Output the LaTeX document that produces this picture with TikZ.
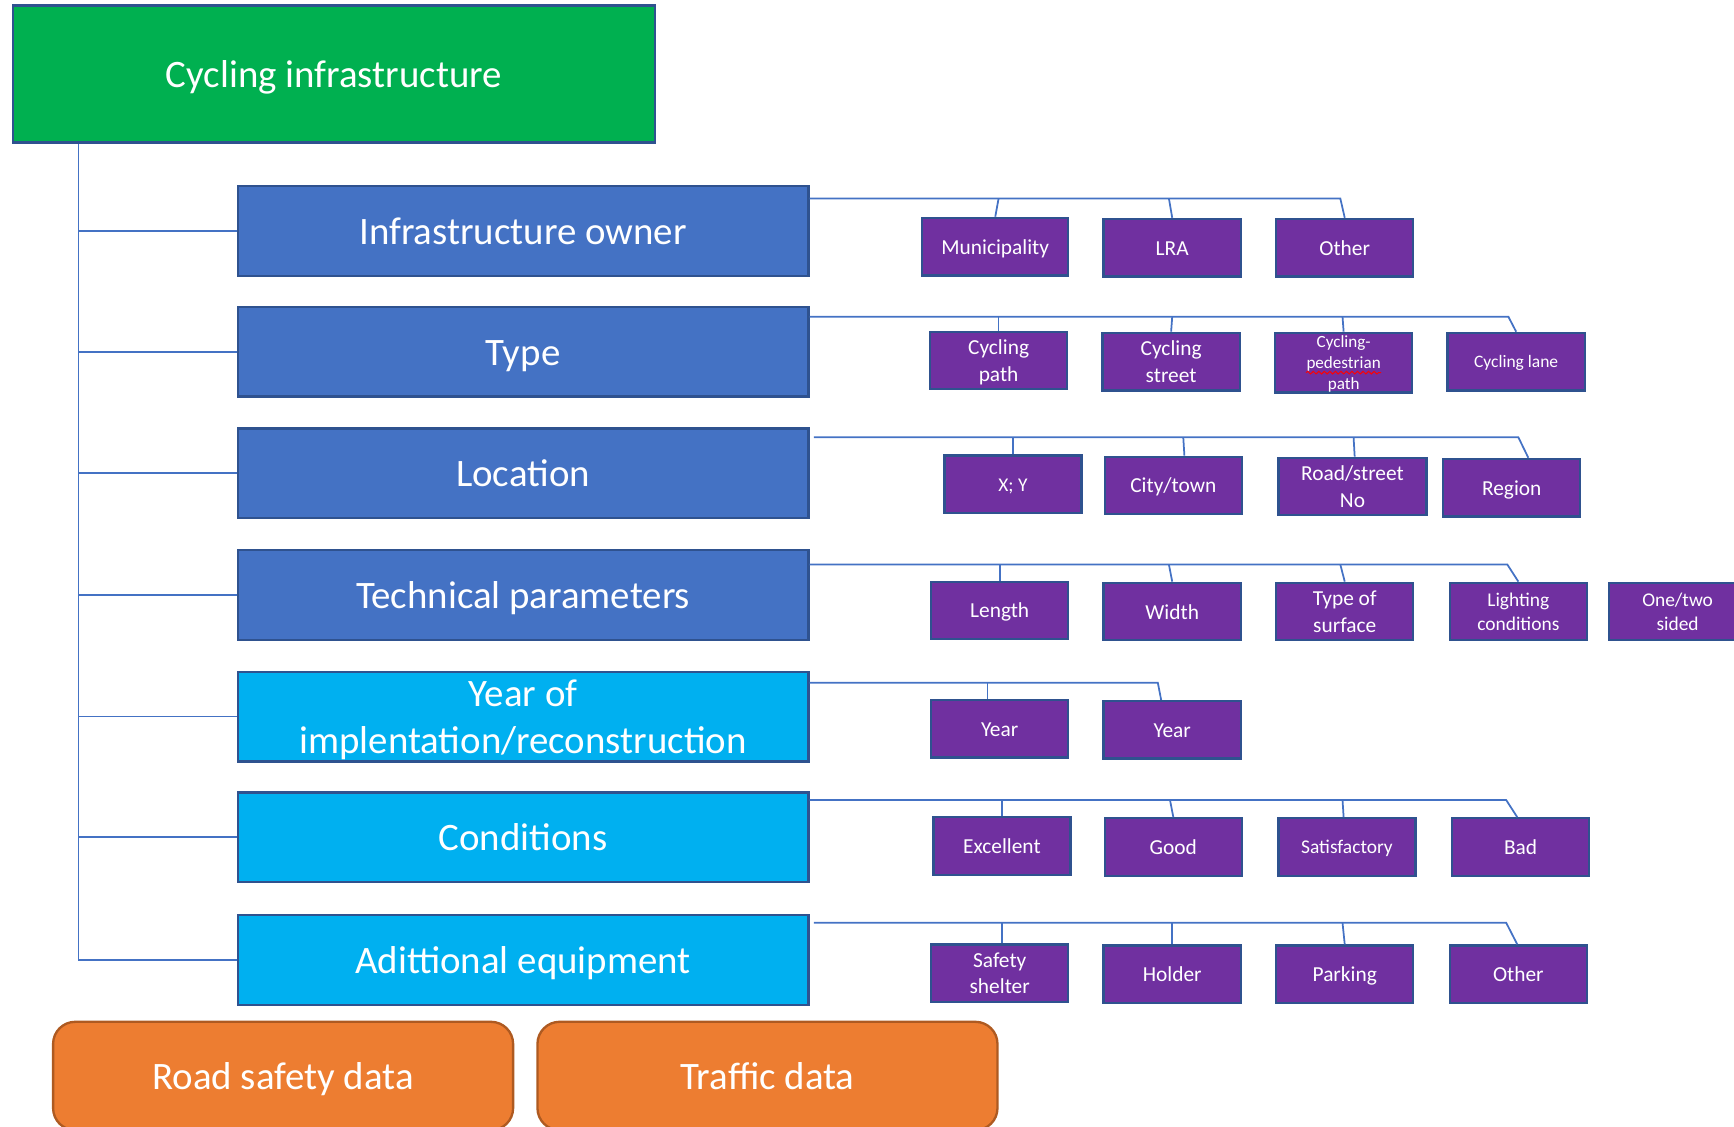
\documentclass[tikz,border=0pt]{standalone}
\usepackage{fontspec}
\setmainfont{Carlito}
\usetikzlibrary{decorations.pathmorphing}
\definecolor{root_green}{RGB}{0,176,80}
\definecolor{main_blue}{RGB}{68,114,196}
\definecolor{light_blue}{RGB}{0,176,240}
\definecolor{leaf_purple}{RGB}{112,48,160}
\definecolor{data_orange}{RGB}{237,125,49}
\definecolor{edge_dark}{RGB}{47,82,143}
\definecolor{orange_dark}{RGB}{174,90,33}
% same line height on every line, so descenders do not move the text
\newcommand{\linestrut}{\rule[-0.22em]{0pt}{1.14em}}

\begin{document}
\begin{tikzpicture}[x=0.1mm,y=-0.1mm]
    \tikzstyle{box}=[draw=edge_dark, rectangle, line width=0.6pt, text=white, inner sep=0pt, align=center,
                     execute at begin node=\linestrut, execute at end node=\linestrut]
    \tikzstyle{multi}=[text depth=-0.1em]
    \tikzstyle{rootbox}=[box, fill=root_green, minimum width=58mm, minimum height=12.4mm, font=\fontsize{10}{12}\selectfont]
    \tikzstyle{catbox}=[box, fill=main_blue, minimum width=51.6mm, minimum height=8.1mm, font=\fontsize{10}{12}\selectfont]
    \tikzstyle{catlbox}=[catbox, fill=light_blue]
    \tikzstyle{leaf}=[box, fill=leaf_purple, minimum width=12.4mm, minimum height=5.2mm, font=\fontsize{5.5}{6.8}\selectfont]
    \tikzstyle{databox}=[box, draw=orange_dark, fill=data_orange, rounded corners=2mm, minimum width=41.6mm, minimum height=9.8mm, font=\fontsize{10}{12}\selectfont]
    \tikzstyle{link}=[draw=main_blue, line width=0.45pt]

    \useasboundingbox (0,0) rectangle (1568,1019);

    % top node and the seven groups
    \node[rootbox] (r)  at (302,67)  {Cycling infrastructure};
    \node[catbox]  (c1) at (473,209) {Infrastructure owner};
    \node[catbox]  (c2) at (473,318) {Type};
    \node[catbox]  (c3) at (473,428) {Location};
    \node[catbox]  (c4) at (473,538) {Technical parameters};
    \node[catlbox, multi] (c5) at (473,648) {Year of\\implentation/reconstruction};
    \node[catlbox] (c6) at (473,757) {Conditions};
    \node[catlbox] (c7) at (473,868) {Adittional equipment};

    \node[databox] (d1) at (256,973) {Road safety data};
    \node[databox] (d2) at (694,973) {Traffic data};

    % leaves
    \node[leaf, minimum width=13.2mm] (a1) at (900,223) {Municipality};
    \node[leaf] (a2) at (1060,224) {LRA};
    \node[leaf] (a3) at (1216,224) {Other};

    \node[leaf, multi] (b1) at (903,326)  {Cycling\\path};
    \node[leaf, multi] (b2) at (1059,327) {Cycling\\street};
    \node[leaf, multi, minimum height=5.4mm, font=\fontsize{4.4}{5.4}\selectfont] (b3) at (1215,328) {Cycling-\\pedestrian\\path};
    \node[leaf, font=\fontsize{4.5}{5.4}\selectfont] (b4) at (1371,327) {Cycling lane};

    \node[leaf, font=\fontsize{5}{6}\selectfont] (l1) at (916,438) {X; Y};
    \node[leaf] (l2) at (1061,439) {City/town};
    \node[leaf, multi, minimum width=13.4mm] (l3) at (1223,440) {Road/street\\No};
    \node[leaf] (l4) at (1367,441) {Region};

    \node[leaf] (p1) at (904,552)  {Length};
    \node[leaf] (p2) at (1060,553) {Width};
    \node[leaf, multi] (p3) at (1216,553) {Type of\\surface};
    \node[leaf, multi, font=\fontsize{5}{6.2}\selectfont] (p4) at (1373,553) {Lighting\\conditions};
    \node[leaf, multi, font=\fontsize{5}{6.2}\selectfont] (p5) at (1517,553) {One/two\\sided};

    \node[leaf] (y1) at (904,659)  {Year};
    \node[leaf] (y2) at (1060,660) {Year};

    \node[leaf] (k1) at (906,765)  {Excellent};
    \node[leaf] (k2) at (1061,766) {Good};
    \node[leaf, font=\fontsize{5}{6}\selectfont] (k3) at (1218,766) {Satisfactory};
    \node[leaf] (k4) at (1375,766) {Bad};

    \node[leaf, multi] (e1) at (904,880)  {Safety\\shelter};
    \node[leaf] (e2) at (1060,881) {Holder};
    \node[leaf] (e3) at (1216,881) {Parking};
    \node[leaf] (e4) at (1373,881) {Other};

    % spell-check mark under the long word
    \draw[red, line width=0.25pt, decorate, decoration={snake, amplitude=0.12mm, segment length=0.5mm}]
      ([xshift=-3.4mm,yshift=-0.9mm]b3.center) -- ([xshift=3.4mm,yshift=-0.9mm]b3.center);

    % trunk on the left
    \coordinate (s) at ([xshift=6mm]r.south west);
    \path[link]
     (s) edge (s |- c7.west)
     (s |- c1.west) edge (c1.west)
     (s |- c2.west) edge (c2.west)
     (s |- c3.west) edge (c3.west)
     (s |- c4.west) edge (c4.west)
     (s |- c5.west) edge (c5.west)
     (s |- c6.west) edge (c6.west)
     (s |- c7.west) edge (c7.west)
     ;

    % brackets to the leaves
    \coordinate (q1) at ([yshift=-1.2mm]c1.north east);
    \coordinate (q2) at ([yshift=-1.0mm]c2.north east);
    \coordinate (q3) at ([xshift=0.4mm,yshift=-0.9mm]c3.north east);
    \coordinate (q4) at ([yshift=-1.4mm]c4.north east);
    \coordinate (q5) at ([yshift=-1.1mm]c5.north east);
    \coordinate (q6) at ([yshift=-0.8mm]c6.north east);
    \coordinate (q7) at ([xshift=0.4mm,yshift=-0.8mm]c7.north east);

    \draw[link] (q1) -- ([xshift=-0.4mm]a3.north |- q1) -- (a3.north);
    \draw[link] (q2) -- ([xshift=-0.7mm]b4.north |- q2) -- (b4.north);
    \draw[link] (q3) -- ([xshift=0.6mm]l4.north |- q3) -- ([xshift=1.5mm]l4.north);
    \draw[link] (q4) -- ([xshift=-1mm]p4.north |- q4) -- (p4.north);
    \draw[link] (q5) -- ([xshift=-1.3mm]y2.north |- q5) -- ([xshift=-1mm]y2.north);
    \draw[link] (q6) -- ([xshift=-1.3mm]k4.north |- q6) -- ([xshift=-0.3mm]k4.north);
    \draw[link] (q7) -- ([xshift=-1.1mm]e4.north |- q7) -- ([xshift=-0.1mm]e4.north);

    \path[link]
     ([xshift=0.3mm]a1.north |- q1) edge (a1.north)
     ([xshift=-0.3mm]a2.north |- q1) edge (a2.north)
     (b1.north |- q2) edge (b1.north)
     ([xshift=0.1mm]b2.north |- q2) edge (b2.north)
     ([xshift=-0.1mm]b3.north |- q2) edge (b3.north)
     (l1.north |- q3) edge (l1.north)
     ([xshift=0.9mm]l2.north |- q3) edge ([xshift=1mm]l2.north)
     ([xshift=0.1mm]l3.north |- q3) edge ([xshift=0.2mm]l3.north)
     (p1.north |- q4) edge (p1.north)
     ([xshift=-0.3mm]p2.north |- q4) edge (p2.north)
     ([xshift=-0.4mm]p3.north |- q4) edge (p3.north)
     ([xshift=-1.1mm]y1.north |- q5) edge ([xshift=-1.1mm]y1.north)
     (k1.north |- q6) edge (k1.north)
     ([xshift=-0.3mm]k2.north |- q6) edge (k2.north)
     ([xshift=-0.4mm]k3.north |- q6) edge ([xshift=-0.3mm]k3.north)
     ([xshift=0.2mm]e1.north |- q7) edge ([xshift=0.2mm]e1.north)
     (e2.north |- q7) edge (e2.north)
     ([xshift=-0.2mm]e3.north |- q7) edge (e3.north)
     ;
\end{tikzpicture}
\end{document}
